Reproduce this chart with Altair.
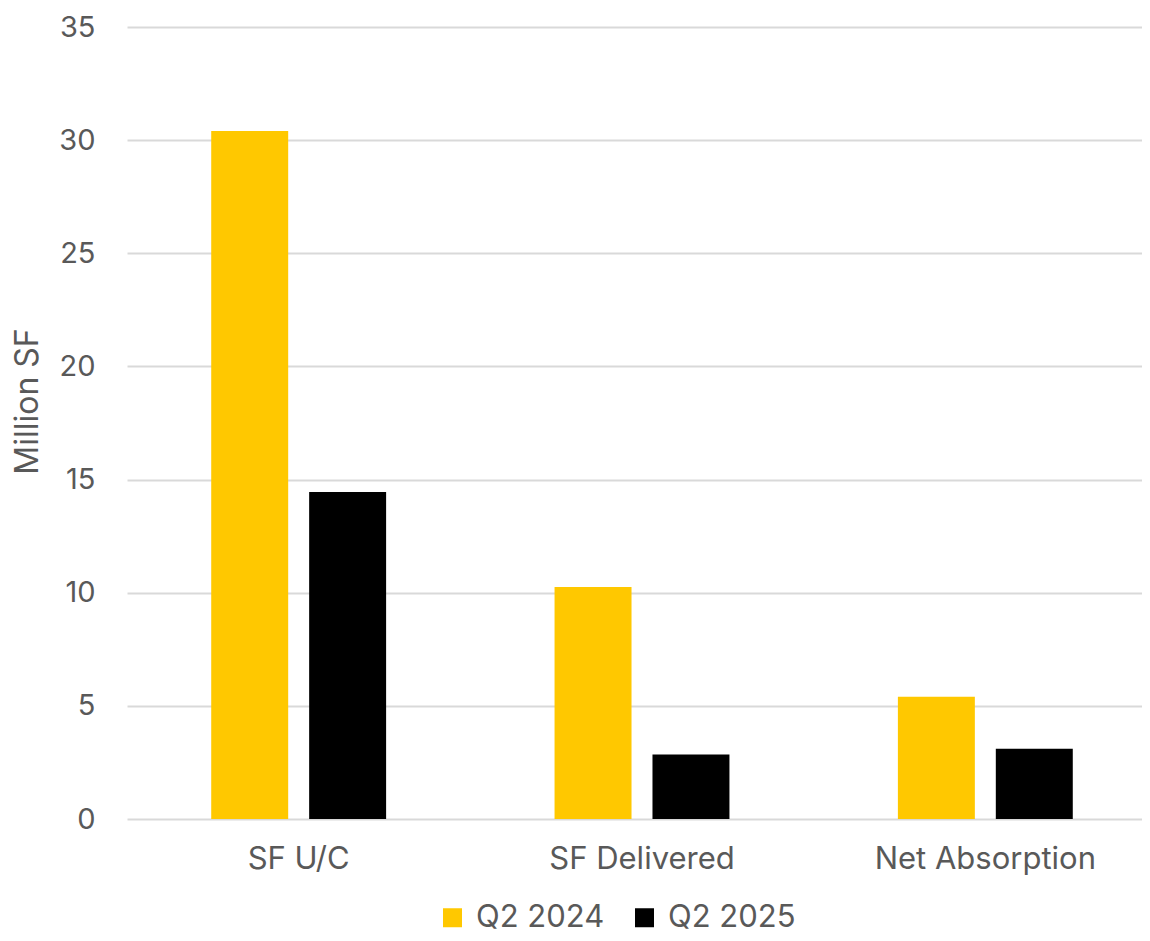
import altair as alt
import pandas as pd

categories = ["SF U/C", "SF Delivered", "Net Absorption"]
series = ["Q2 2024", "Q2 2025"]
q2_2024 = [30.4, 10.25, 5.4]
q2_2025 = [14.45, 2.85, 3.1]
colors = ["#FFC800", "#000000"]

rows = []
for c, a, b in zip(categories, q2_2024, q2_2025):
    rows.append({"cat": c, "series": series[0], "value": a})
    rows.append({"cat": c, "series": series[1], "value": b})
df = pd.DataFrame(rows)

FONT = "Inter"
GRAY = "#595959"

chart = alt.Chart(df).mark_bar().encode(
    x=alt.X("cat:N", sort=categories, title=None,
            scale=alt.Scale(paddingInner=0, paddingOuter=0, range=[0, 1030]),
            axis=alt.Axis(labelAngle=0, ticks=False, domain=False, labelLimit=0,
                          labelFontSize=31, labelColor=GRAY, labelFont=FONT,
                          labelPadding=25)),
    xOffset=alt.XOffset("series:N", sort=series,
                        scale=alt.Scale(paddingInner=0.214, paddingOuter=0.86)),
    y=alt.Y("value:Q", title="Million SF",
            scale=alt.Scale(domain=[0, 35], nice=False),
            axis=alt.Axis(values=[0, 5, 10, 15, 20, 25, 30, 35], ticks=False, domain=False,
                          labelFontSize=29, labelColor=GRAY, labelFont=FONT,
                          labelPadding=32, gridColor="#D9D9D9", gridWidth=2,
                          titleFontSize=32, titleColor=GRAY, titleFont=FONT,
                          titleFontWeight="normal", titleAngle=270,
                          titleAlign="center", titleBaseline="middle",
                          titleX=-100, titleY=374)),
    color=alt.Color("series:N", sort=series,
                    scale=alt.Scale(domain=series, range=colors),
                    legend=alt.Legend(title=None, orient="none", direction="horizontal",
                                      legendX=310, legendY=875,
                                      symbolType="square", symbolSize=361,
                                      symbolStrokeWidth=0, symbolOpacity=1,
                                      labelFontSize=31, labelColor=GRAY, labelFont=FONT,
                                      labelOffset=8, columnPadding=24, padding=0)),
).properties(
    width=1015, height=792,
    autosize=alt.AutoSizeParams(type="none"),
    padding={"left": 119, "top": 19, "right": 0, "bottom": 114},
).configure_view(stroke=None)

chart.save("out.html", embed_options={"renderer": "svg", "actions": False})
